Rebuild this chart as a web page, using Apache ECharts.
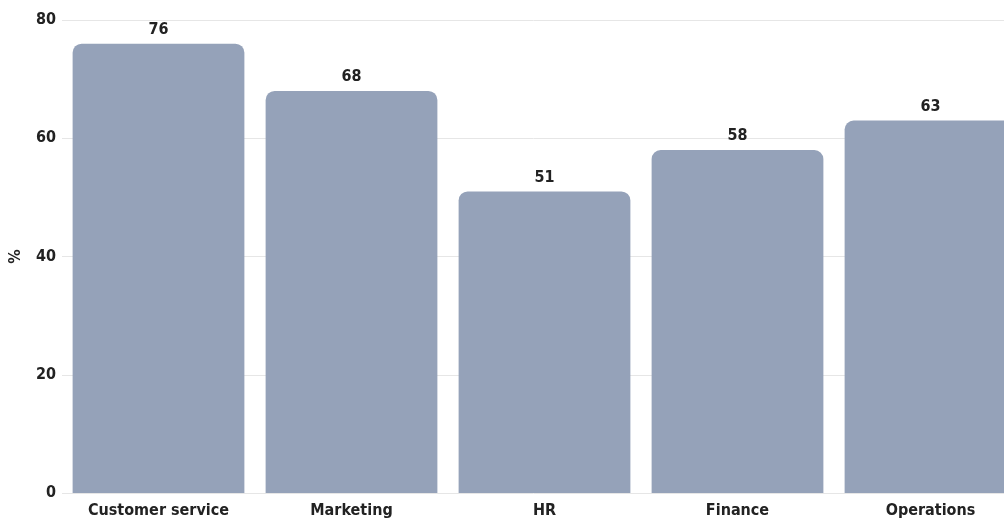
<!DOCTYPE html>
<html>
<head>
<meta charset="utf-8">
<script src="https://cdn.jsdelivr.net/npm/echarts@6/dist/echarts.min.js"></script>
<style>
  html, body { margin: 0; padding: 0; background: #fff; }
  #chart { width: 1004px; height: 520px; }
</style>
</head>
<body>
<div id="chart"></div>
<script>
const categories = ['Customer service', 'Marketing', 'HR', 'Finance', 'Operations']
const values = [76, 68, 51, 58, 63]
const yTicks = { min: 0, max: 80, interval: 20 }

// condensed face to get close to the narrow labels of the original
const font = "'DejaVu Sans Condensed', 'Liberation Sans Narrow', sans-serif"
const textColor = '#222'
const textStyle = { color: textColor, fontFamily: font, fontStyle: 'condensed', fontSize: 16, fontWeight: 'bold' }

const chart = echarts.init(document.getElementById('chart'))
chart.setOption({
  animation: false,
  // last bar runs past the right edge in the original
  grid: { left: 62, width: 965, top: 20, bottom: 27, outerBoundsMode: 'none', containLabel: false },
  xAxis: {
    type: 'category',
    data: categories,
    axisLine: { show: false },
    axisTick: { show: false },
    axisLabel: Object.assign({ margin: 10 }, textStyle)
  },
  yAxis: {
    type: 'value',
    min: yTicks.min,
    max: yTicks.max,
    interval: yTicks.interval,
    name: '%',
    nameLocation: 'middle',
    nameGap: 38,
    nameTextStyle: textStyle,
    axisLabel: Object.assign({ margin: 6 }, textStyle),
    splitLine: { lineStyle: { color: '#e6e6e6', width: 1 } }
  },
  series: [{
    type: 'bar',
    data: values,
    barCategoryGap: '11%',
    itemStyle: { color: '#95a2b9', borderRadius: [9, 9, 0, 0] },
    label: Object.assign({ show: true, position: 'top', distance: 6 }, textStyle)
  }]
})
</script>
</body>
</html>
